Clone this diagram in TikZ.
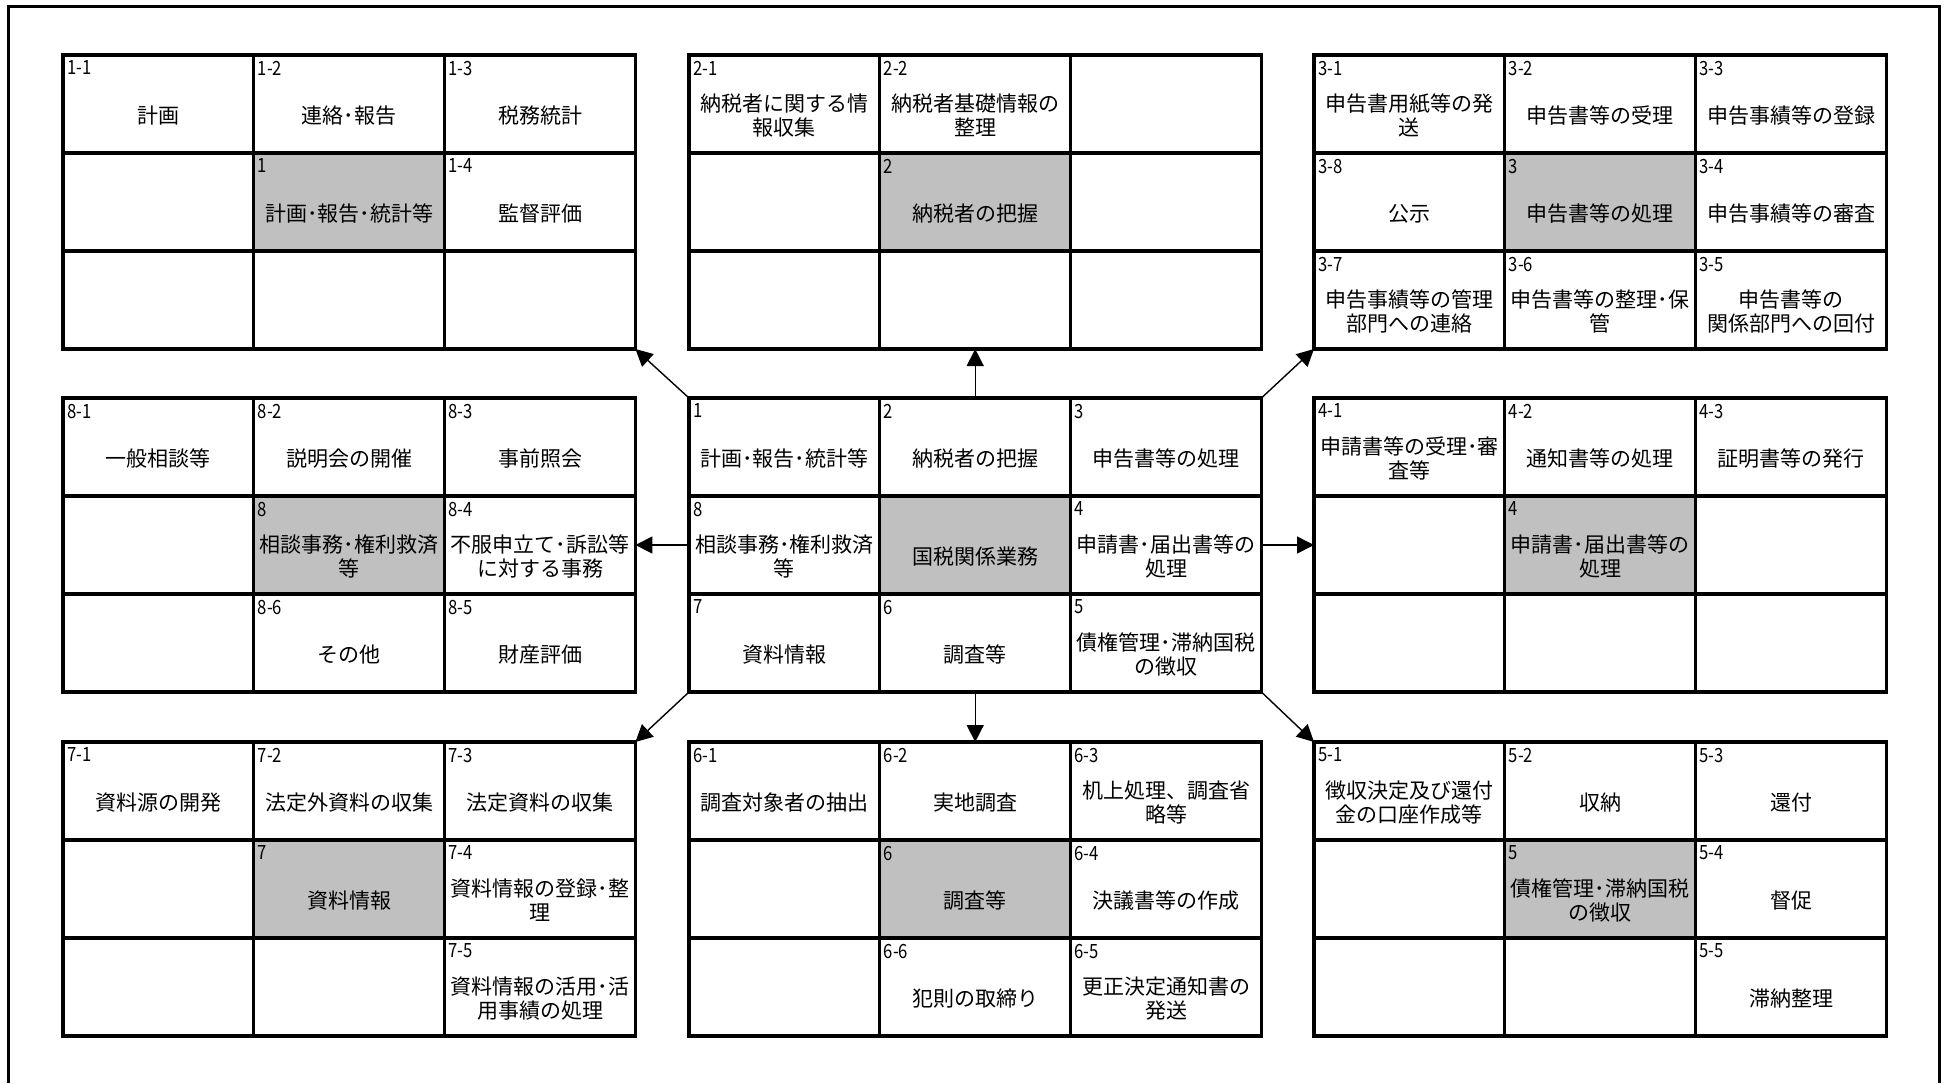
\documentclass[tikz,border=0pt]{standalone}
\usepackage{fontspec}
\setmainfont{Noto Sans CJK JP}
\newfontfamily\labfont{Noto Sans CJK JP}[FakeStretch=0.85]
\usetikzlibrary{arrows.meta}
\definecolor{CellGray}{RGB}{192,192,192}
\tikzset{
  cell/.style={draw=black,line width=1.6pt,minimum width=95.4pt,minimum height=49pt,
    inner sep=0pt,outer sep=0pt,anchor=north west},
  numlab/.style={anchor=north west,inner xsep=1.8pt,inner ysep=2.8pt,font=\labfont\fontsize{9.8}{10}\selectfont},
  body/.style={align=center,inner sep=0pt,font=\fontsize{10.5}{12}\selectfont},
  flow/.style={draw=black,line width=0.7pt,-{Triangle[length=8.5pt,width=8.5pt]}},
  frame/.style={draw=black,line width=1.5pt},
}

\begin{document}
\begin{tikzpicture}[x=0.5pt,y=-0.5pt]
\useasboundingbox (0,0) rectangle (1946,1083);
\draw[frame] (8,1083) -- (8,6) -- (1939,6) -- (1939,1083);
\foreach \k/\x/\y in {k1/63/55,k2/689/55,k3/1314/55,k8/63/398,k0/689/398,k4/1314/398,
  k7/63/742,k6/689/742,k5/1314/742}
  \foreach \r in {0,1,2}
    \foreach \c in {0,1,2}{
      \ifnum\r\c=11 \def\cellfill{CellGray}\else\def\cellfill{white}\fi
      \node[cell,fill=\cellfill] (\k-\r\c) at ({\x+190.8*\c},{\y+98*\r}) {};
    }
\foreach \k/\rc/\lab/\txt in {
  k1/00/1-1/計画, k1/01/1-2/連絡･報告, k1/02/1-3/税務統計,
  k1/11/1/計画･報告･統計等, k1/12/1-4/監督評価,
  k2/00/2-1/{納税者に関する情\\報収集}, k2/01/2-2/{納税者基礎情報の\\整理},
  k2/11/2/納税者の把握,
  k3/00/3-1/{申告書用紙等の発\\送}, k3/01/3-2/申告書等の受理, k3/02/3-3/申告事績等の登録,
  k3/10/3-8/公示, k3/11/3/申告書等の処理, k3/12/3-4/申告事績等の審査,
  k3/20/3-7/{申告事績等の管理\\部門への連絡}, k3/21/3-6/{申告書等の整理･保\\管},
  k3/22/3-5/{申告書等の\\関係部門への回付},
  k8/00/8-1/一般相談等, k8/01/8-2/説明会の開催, k8/02/8-3/事前照会,
  k8/11/8/{相談事務･権利救済\\等}, k8/12/8-4/{不服申立て･訴訟等\\に対する事務},
  k8/21/8-6/その他, k8/22/8-5/財産評価,
  k0/00/1/計画･報告･統計等, k0/01/2/納税者の把握, k0/02/3/申告書等の処理,
  k0/10/8/{相談事務･権利救済\\等}, k0/11/{}/国税関係業務, k0/12/4/{申請書･届出書等の\\処理},
  k0/20/7/資料情報, k0/21/6/調査等, k0/22/5/{債権管理･滞納国税\\の徴収},
  k4/00/4-1/{申請書等の受理･審\\査等}, k4/01/4-2/通知書等の処理, k4/02/4-3/証明書等の発行,
  k4/11/4/{申請書･届出書等の\\処理},
  k7/00/7-1/資料源の開発, k7/01/7-2/法定外資料の収集, k7/02/7-3/法定資料の収集,
  k7/11/7/資料情報, k7/12/7-4/{資料情報の登録･整\\理}, k7/22/7-5/{資料情報の活用･活\\用事績の処理},
  k6/00/6-1/調査対象者の抽出, k6/01/6-2/実地調査, k6/02/6-3/{机上処理、調査省\\略等},
  k6/11/6/調査等, k6/12/6-4/決議書等の作成, k6/21/6-6/犯則の取締り,
  k6/22/6-5/{更正決定通知書の\\発送},
  k5/00/5-1/{徴収決定及び還付\\金の口座作成等}, k5/01/5-2/収納, k5/02/5-3/還付,
  k5/11/5/{債権管理･滞納国税\\の徴収}, k5/12/5-4/督促, k5/22/5-5/滞納整理}{
  \node[numlab] (n\k-\rc) at (\k-\rc.north west) {\lab};
  \node[body] (t\k-\rc) at ([yshift=-5.7pt]\k-\rc.center) {\txt};
}
\draw[flow] (k0-00.north west) -- (k1-22.south east);
\draw[flow] (k0-01.north) -- (k2-21.south);
\draw[flow] (k0-02.north east) -- (k3-20.south west);
\draw[flow] (k0-10.west) -- (k8-12.east);
\draw[flow] (k0-12.east) -- (k4-10.west);
\draw[flow] (k0-20.south west) -- (k7-02.north east);
\draw[flow] (k0-21.south) -- (k6-01.north);
\draw[flow] (k0-22.south east) -- (k5-00.north west);
\end{tikzpicture}
\end{document}
